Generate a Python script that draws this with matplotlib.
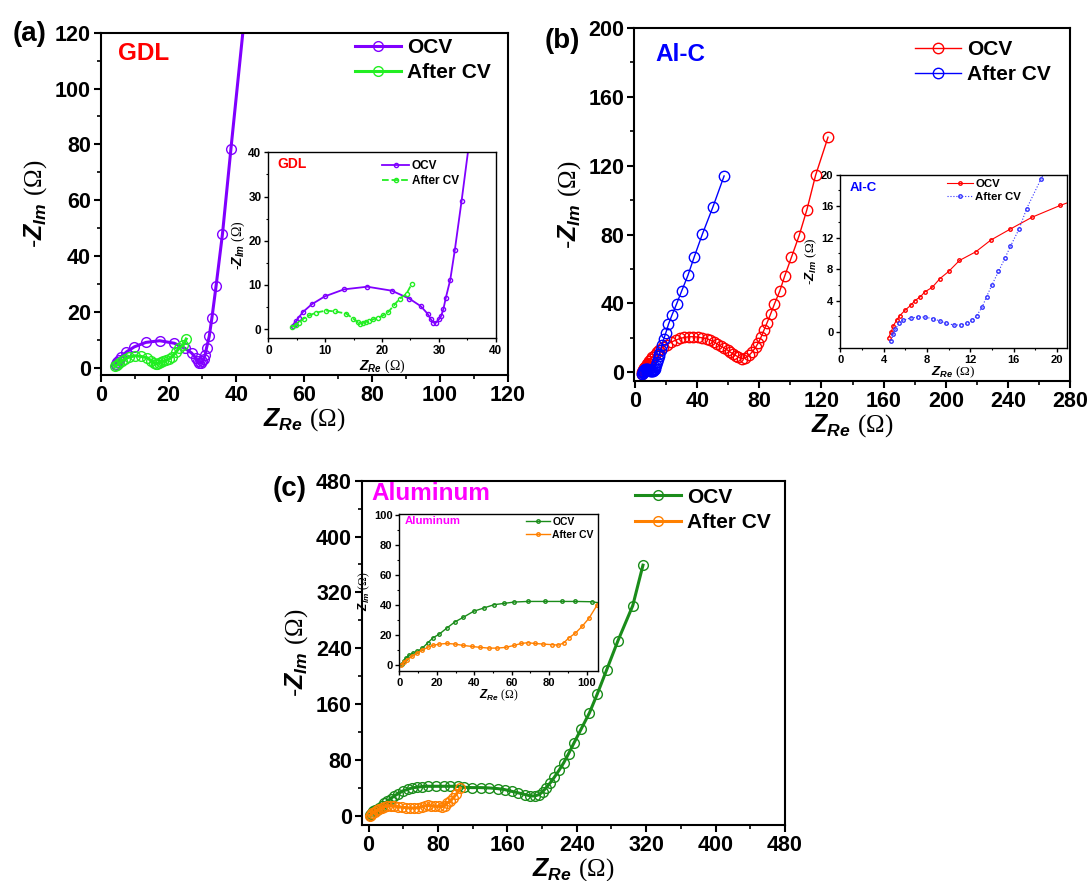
import matplotlib
matplotlib.use('Agg')
import matplotlib.pyplot as plt
from matplotlib.ticker import MultipleLocator

plt.rcParams['font.family'] = 'Liberation Sans'
plt.rcParams['font.weight'] = 'bold'
plt.rcParams['mathtext.fontset'] = 'custom'
plt.rcParams['mathtext.it'] = 'Liberation Sans:italic:bold'
plt.rcParams['mathtext.rm'] = 'Liberation Serif:regular'
plt.rcParams['mathtext.bf'] = 'Liberation Sans:bold'

# Nyquist data, Z_Re / -Z_Im in ohm
gdl_ocv_x = [4.4, 4.6, 4.9, 5.3, 6.1, 7.6, 9.9, 13.3, 17.4, 21.7, 24.8, 26.8, 28.0, 28.6,
             29.0, 29.5, 30.0, 30.4, 30.8, 31.2, 32.0, 32.8, 34.0, 35.9, 38.4, 43.5]
gdl_ocv_y = [0.8, 1.2, 1.8, 2.6, 3.9, 5.6, 7.4, 9.0, 9.6, 8.7, 6.9, 5.2, 3.5, 2.2,
             1.5, 1.5, 2.2, 3.0, 4.6, 7.0, 11.2, 17.9, 29.1, 47.9, 78.5, 139.0]
gdl_cv_x = [4.2, 4.8, 5.4, 6.2, 7.2, 8.3, 10.1, 11.8, 13.7, 14.9, 15.7, 16.2, 16.6, 17.1,
            17.7, 18.4, 19.3, 20.2, 21.1, 22.1, 23.1, 24.3, 25.2]
gdl_cv_y = [0.5, 0.9, 1.5, 2.4, 3.1, 3.7, 4.2, 4.0, 3.5, 2.4, 1.6, 1.2, 1.4, 1.6,
            1.9, 2.2, 2.6, 3.1, 3.9, 5.4, 6.9, 8.0, 10.2]

alc_ocv_x = [4.46, 4.7, 4.9, 5.2, 5.5, 6.0, 6.5, 6.9, 7.4, 7.8, 8.5, 9.2, 10.0, 11.0, 12.5,
             13.9, 15.7, 17.7, 20.3, 23.3, 26.3, 29.0, 31.7, 34.7, 37.6, 40.3, 43.0, 46.0,
             48.3, 50.5, 52.8, 55.1, 57.3, 59.6, 61.4, 63.0, 64.8, 66.4, 68.6, 70.9, 73.4,
             75.4, 77.7, 79.3, 81.1, 82.9, 85.0, 87.2, 89.7, 93.1, 96.3, 100.6, 105.6,
             110.6, 116.2, 124.2]
alc_ocv_y = [-0.7, 0.0, 0.8, 1.5, 2.1, 2.8, 3.4, 4.0, 4.5, 5.1, 5.7, 6.8, 7.7, 9.1, 10.2,
             11.7, 13.1, 14.6, 16.1, 17.6, 18.8, 19.7, 20.3, 20.7, 20.7, 20.5, 20.1, 19.6,
             18.8, 17.8, 16.6, 15.2, 14.3, 12.9, 11.7, 10.8, 9.8, 9.0, 8.0, 8.4, 10.0,
             11.9, 14.7, 17.2, 20.5, 24.4, 28.9, 33.8, 39.7, 47.1, 55.9, 66.7, 79.4,
             94.4, 114.4, 136.5]
alc_cv_x = [4.7, 4.9, 5.1, 5.4, 5.8, 6.5, 7.2, 7.8, 8.6, 9.2, 9.8, 10.5, 11.1, 11.7, 12.2,
            12.6, 13.1, 13.5, 14.0, 14.6, 15.2, 15.7, 16.5, 17.2, 18.5, 19.8, 21.5, 23.8,
            26.7, 30.1, 34.0, 38.1, 43.3, 50.1, 57.3]
alc_cv_y = [-1.1, -0.2, 0.4, 1.1, 1.5, 1.8, 1.9, 1.9, 1.7, 1.4, 1.1, 0.9, 0.9, 1.1, 1.5,
            2.1, 3.2, 4.5, 6.0, 7.7, 9.4, 10.9, 13.1, 15.7, 19.4, 23.0, 28.0, 33.4,
            39.7, 47.5, 56.3, 67.1, 80.2, 96.0, 114.0]

al_ocv_x = [1.5, 2.4, 3.6, 5.1, 7.3, 9.6, 12.3, 15.1, 17.8, 21.4, 25.4, 29.6, 34.1, 39.6,
            45.0, 50.5, 55.9, 61.3, 68.6, 77.7, 86.8, 94.0, 102.7, 109.5, 119.4, 129.3,
            139.2, 149.1, 157.0, 164.9, 172.8, 180.7, 186.6, 191.8, 196.5, 200.5, 204.4,
            209.6, 214.3, 219.5, 225.0, 230.5, 236.9, 244.8, 254.6, 263.7, 274.4, 287.5,
            304.5, 316.3]
al_ocv_y = [0.7, 2.9, 4.7, 6.4, 7.8, 9.1, 11.3, 14.7, 18.0, 20.7, 24.7, 28.7, 31.8, 35.8,
            38.0, 40.2, 41.1, 42.0, 42.4, 42.4, 42.4, 42.4, 42.2, 41.0, 40.5, 40.5,
            40.0, 39.0, 37.6, 35.2, 32.9, 30.5, 28.6, 28.6, 30.5, 34.3, 40.0,
            47.6, 55.7, 65.2, 76.2, 89.0, 104.8, 123.8, 147.6, 174.8, 209.0, 251.0,
            301.0, 359.0]
al_cv_x = [1.1, 2.4, 4.2, 6.9, 9.6, 12.3, 15.1, 17.8, 21.4, 25.4, 29.6, 34.1, 38.7, 43.2,
           47.7, 52.3, 56.8, 61.3, 65.0, 68.6, 72.2, 76.8, 81.3, 84.9, 87.7, 90.4, 94.0,
           97.6, 101.3, 105.6]
al_cv_y = [0.2, 1.8, 3.6, 5.8, 8.0, 10.0, 11.8, 13.1, 14.0, 14.4, 14.0, 13.1, 12.4, 11.8,
           11.3, 11.3, 11.8, 13.1, 14.4, 14.9, 14.4, 14.0, 13.6, 13.3, 14.7, 18.0, 21.3,
           25.8, 31.3, 40.0]

xlab = r'$Z_{Re}\ (\Omega)$'
ylab = r'-$Z_{Im}\ (\Omega)$'


def frame(ax, xlim, ylim, xstep, ystep, fs, lw, tl):
    ax.set_xlim(xlim)
    ax.set_ylim(ylim)
    ax.xaxis.set_major_locator(MultipleLocator(xstep))
    ax.xaxis.set_minor_locator(MultipleLocator(xstep / 2))
    ax.yaxis.set_major_locator(MultipleLocator(ystep))
    ax.yaxis.set_minor_locator(MultipleLocator(ystep / 2))
    ax.tick_params(which='major', direction='out', length=tl, width=lw, labelsize=fs, pad=2)
    ax.tick_params(which='minor', direction='out', length=tl * 0.6, width=lw * 0.8)
    for s in ax.spines.values():
        s.set_linewidth(lw)


def curves(ax, x1, y1, x2, y2, c1, c2, ms, lw, ls2='-'):
    l1, = ax.plot(x1, y1, '-o', color=c1, mfc='none', mec=c1, ms=ms, mew=1.0, lw=lw, label='OCV')
    l2, = ax.plot(x2, y2, marker='o', ls=ls2, color=c2, mfc='none', mec=c2, ms=ms, mew=1.0,
                  lw=lw, label='After CV')
    return l1, l2


fig = plt.figure(figsize=(10.91, 8.81), dpi=100)

# (a) GDL
ax = fig.add_axes([0.0923, 0.5743, 0.3731, 0.3885])
curves(ax, gdl_ocv_x, gdl_ocv_y, gdl_cv_x, gdl_cv_y, '#8000ff', '#22ee22', 7, 2.2)
frame(ax, (0, 120), (-2.7, 120), 20, 20, 15.5, 1.5, 5)
ax.set_xlabel(xlab, fontsize=18, labelpad=0)
ax.set_ylabel(ylab, fontsize=18, labelpad=4)
ax.text(0.042, 0.938, 'GDL', color='#ff0000', fontsize=17.5, transform=ax.transAxes, va='center')
ax.legend(loc='upper left', bbox_to_anchor=(0.625, 0.985), frameon=False, fontsize=15,
          handlelength=2.2, handletextpad=0.3, borderaxespad=0, borderpad=0, labelspacing=0.3)
ins = ax.inset_axes([0.412, 0.107, 0.5585, 0.5436])
curves(ins, gdl_ocv_x, gdl_ocv_y, gdl_cv_x, gdl_cv_y, '#8000ff', '#22ee22', 3, 1.3, ls2='--')
frame(ins, (0, 40), (-2.1, 40), 10, 10, 8.5, 1.0, 3)
ins.set_xlabel(xlab, fontsize=10, labelpad=0)
ins.set_ylabel(ylab, fontsize=10, labelpad=1)
ins.text(0.038, 0.938, 'GDL', color='#ff0000', fontsize=10, transform=ins.transAxes, va='center')
ins.legend(loc='upper left', bbox_to_anchor=(0.5, 0.96), frameon=False, fontsize=8.5,
           handlelength=2.3, handletextpad=0.2, borderaxespad=0, borderpad=0, labelspacing=0.3)

# (b) Al-C
ax = fig.add_axes([0.5814, 0.5675, 0.3994, 0.4010])
curves(ax, alc_ocv_x, alc_ocv_y, alc_cv_x, alc_cv_y, '#ff0000', '#0000ff', 7.5, 1.0)
frame(ax, (-0.5, 280), (-5, 200), 40, 40, 15.5, 1.5, 5)
ax.set_xlabel(xlab, fontsize=18, labelpad=0)
ax.set_ylabel(ylab, fontsize=18, labelpad=4)
ax.text(0.048, 0.923, 'Al-C', color='#0000ff', fontsize=17.5, transform=ax.transAxes, va='center')
ax.legend(loc='upper left', bbox_to_anchor=(0.645, 0.965), frameon=False, fontsize=15,
          handlelength=2.2, handletextpad=0.3, borderaxespad=0, borderpad=0, labelspacing=0.3)
ins = ax.inset_axes([0.4725, 0.094, 0.52, 0.49])
curves(ins, alc_ocv_x, alc_ocv_y, alc_cv_x, alc_cv_y, '#ff0000', '#3333ff', 2.5, 0.8, ls2=':')
frame(ins, (0, 20.9), (-2, 20), 4, 4, 8, 1.0, 3)
ins.set_xlabel(xlab, fontsize=9.5, labelpad=0)
ins.set_ylabel(ylab, fontsize=9.5, labelpad=1)
ins.text(0.044, 0.923, 'Al-C', color='#0000ff', fontsize=9.5, transform=ins.transAxes, va='center')
ins.legend(loc='upper left', bbox_to_anchor=(0.47, 0.975), frameon=False, fontsize=8.2,
           handlelength=2.3, handletextpad=0.2, borderaxespad=0, borderpad=0, labelspacing=0.3)

# (c) Aluminum
ax = fig.add_axes([0.3315, 0.0636, 0.3880, 0.3908])
curves(ax, al_ocv_x, al_ocv_y, al_cv_x, al_cv_y, '#1a8c1a', '#ff8000', 7, 2.2)
frame(ax, (-8, 480), (-13, 480), 80, 80, 15.5, 1.5, 5)
ax.set_xlabel(xlab, fontsize=18, labelpad=0)
ax.set_ylabel(ylab, fontsize=18, labelpad=4)
ax.text(0.023, 0.963, 'Aluminum', color='#ff00ff', fontsize=17.5, transform=ax.transAxes,
        va='center')
ax.legend(loc='upper left', bbox_to_anchor=(0.645, 0.98), frameon=False, fontsize=15,
          handlelength=2.2, handletextpad=0.3, borderaxespad=0, borderpad=0, labelspacing=0.3)
ins = ax.inset_axes([0.089, 0.447, 0.469, 0.455])
curves(ins, al_ocv_x, al_ocv_y, al_cv_x, al_cv_y, '#1a8c1a', '#ff8000', 2.5, 1.0)
frame(ins, (0, 106), (-4, 100.4), 20, 20, 8, 1.0, 3)
ins.set_xlabel(xlab, fontsize=8.5, labelpad=0)
ins.set_ylabel(ylab, fontsize=8.5, labelpad=1)
ins.text(0.029, 0.957, 'Aluminum', color='#ff00ff', fontsize=8.2, transform=ins.transAxes,
         va='center')
ins.legend(loc='upper left', bbox_to_anchor=(0.64, 0.985), frameon=False, fontsize=7.5,
           handlelength=2.3, handletextpad=0.2, borderaxespad=0, borderpad=0, labelspacing=0.3)

fig.text(0.012, 0.976, '(a)', fontsize=20, va='top')
fig.text(0.499, 0.968, '(b)', fontsize=20, va='top')
fig.text(0.250, 0.460, '(c)', fontsize=20, va='top')

fig.savefig('out.png', dpi=100)
